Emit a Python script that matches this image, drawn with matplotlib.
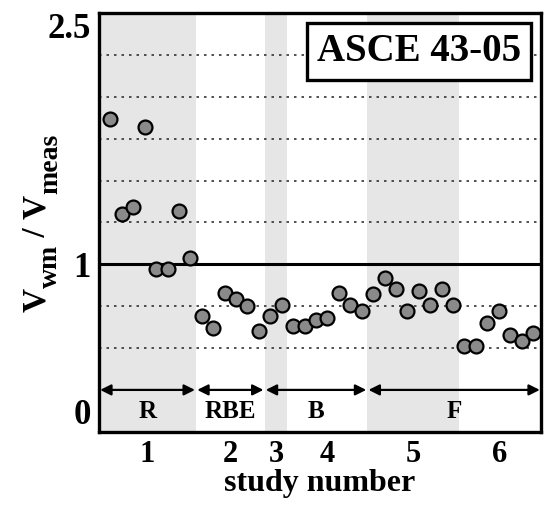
import numpy as np
import matplotlib
matplotlib.use('Agg')
import matplotlib.pyplot as plt
from matplotlib.transforms import IdentityTransform

plt.rcParams['font.family'] = ['Liberation Serif', 'DejaVu Serif']
plt.rcParams['font.weight'] = 'bold'

# V_wm / V_meas for each case, grouped by study
study_values = [
    [1.87, 1.30, 1.34, 1.82, 0.97, 0.97, 1.32, 1.04],   # study 1
    [0.69, 0.62, 0.83, 0.79, 0.75, 0.60],               # study 2
    [0.69, 0.76],                                       # study 3
    [0.63, 0.63, 0.67, 0.68, 0.83, 0.76, 0.72],         # study 4
    [0.82, 0.92, 0.85, 0.72, 0.84, 0.76, 0.85, 0.76],   # study 5
    [0.51, 0.51, 0.65, 0.72, 0.58, 0.54, 0.59],         # study 6
]
study_labels = ["1", "2", "3", "4", "5", "6"]

# structure type groups: label, first study, last study
group_labels = ["R", "RBE", "B", "F"]
group_studies = [(0, 0), (1, 1), (2, 3), (4, 5)]

grid_levels = [0.5, 0.75, 1.25, 1.5, 1.75, 2.0, 2.25]

values = np.concatenate(study_values)
x = np.arange(1, len(values) + 1)
counts = [len(v) for v in study_values]
edges = np.concatenate([[0.0], np.cumsum(counts) + 0.5])
edges[0] = 0.0
xmax = len(values) + 0.7
edges[-1] = xmax

fig = plt.figure(figsize=(5.47, 5.05), dpi=100)
ax = fig.add_axes([0.181, 0.145, 0.808, 0.829])

# alternating study bands
for k in range(len(study_values)):
    if k % 2 == 0:
        ax.axvspan(edges[k], edges[k + 1], color='#e6e6e6', lw=0, zorder=0)

for g in grid_levels:
    ax.axhline(g, color='#333333', lw=1.2, ls=(0, (1.5, 3)), zorder=1)
ax.axhline(1.0, color='black', lw=2.2, zorder=2)

ax.scatter(x, values, s=100, c='#8a8a8a', edgecolors='black', linewidths=1.6, zorder=4)

# group arrows and labels
for lab, (s0, s1) in zip(group_labels, group_studies):
    x0, x1 = edges[s0], edges[s1 + 1]
    ax.annotate('', xy=(x0 + 0.1, 0.25), xytext=(x1 - 0.1, 0.25),
                arrowprops=dict(arrowstyle='<|-|>', color='black', lw=1.6,
                                mutation_scale=16, shrinkA=0, shrinkB=0), zorder=3)
    ax.text((x0 + x1) / 2, 0.12, lab, ha='center', va='center', fontsize=18, fontweight='bold')

ax.text(0.955, 0.908, 'ASCE 43-05', transform=ax.transAxes, ha='right', va='center',
        fontsize=28, fontweight='bold',
        bbox=dict(boxstyle='square,pad=0.25', fc='white', ec='black', lw=2.4), zorder=5)

ax.set_xlim(0, xmax)
ax.set_ylim(0, 2.5)
centers = (edges[:-1] + edges[1:]) / 2
ax.set_xticks(centers)
ax.set_xticklabels(study_labels, fontsize=22, fontweight='bold')
ax.set_yticks([0, 1, 2.5])
ax.set_yticklabels(['0', '1', '2.5'], fontsize=25, fontweight='bold')
ylabs = ax.get_yticklabels()
ylabs[0].set_va('bottom')
ylabs[2].set_va('top')
ax.tick_params(length=0)
ax.tick_params(axis='x', pad=6)
ax.tick_params(axis='y', pad=6)
for sp in ax.spines.values():
    sp.set_linewidth(2.4)

ax.set_xlabel('study number', fontsize=23, fontweight='bold', labelpad=0)

# y label with large subscripts, built piece by piece (rotated, reading upward)
ylabel_parts = [("V", 24, 0), ("wm", 20, 12), (" / ", 24, 0), ("V", 24, 0), ("meas", 20, 12)]
fig.canvas.draw()
renderer = fig.canvas.get_renderer()
base_x, pos_y = 45, 193  # pixels from bottom-left
for s, size, dx in ylabel_parts:
    t = fig.text(base_x + dx, pos_y, s, rotation=90, rotation_mode='anchor',
                 ha='left', va='baseline', fontsize=size, fontweight='bold',
                 transform=IdentityTransform())
    pos_y += t.get_window_extent(renderer).height

fig.savefig('out.png', dpi=100)
